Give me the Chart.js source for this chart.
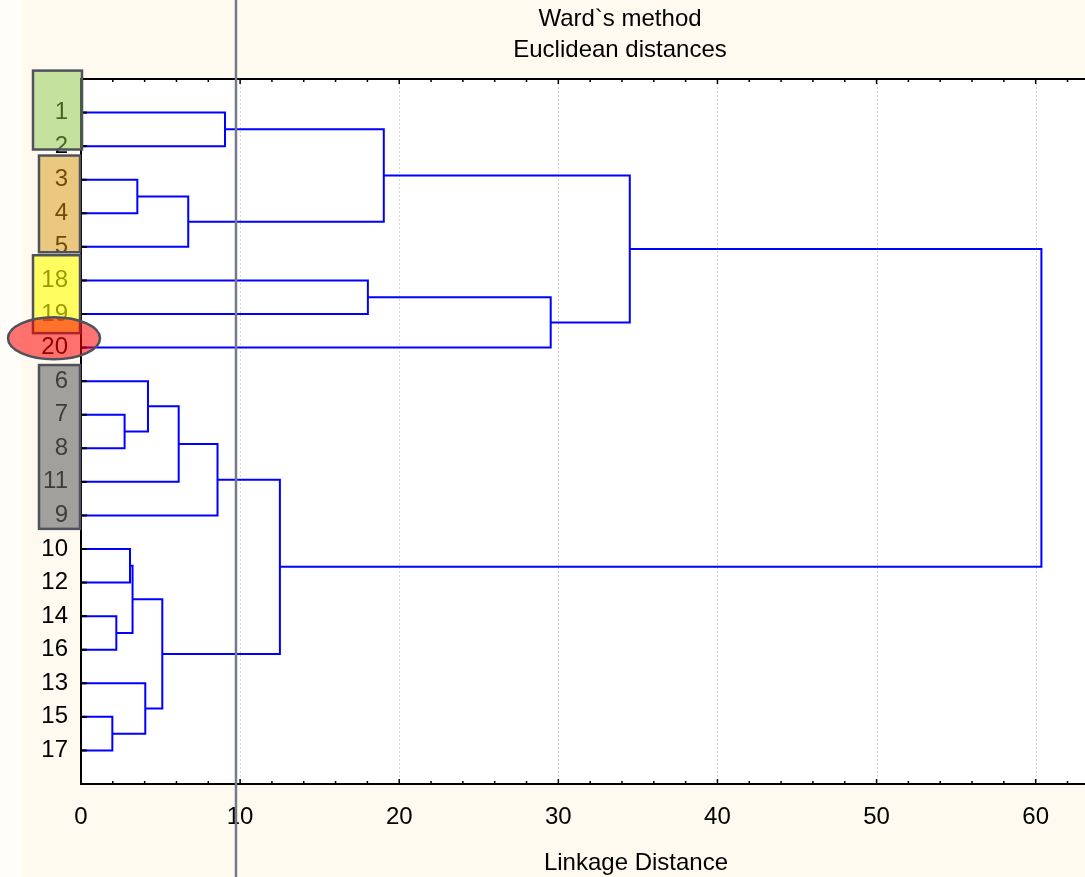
<!DOCTYPE html>
<html>
<head>
<meta charset="utf-8">
<script src="https://cdn.jsdelivr.net/npm/chart.js@4.4.1/dist/chart.umd.min.js"></script>
<style>
html, body { margin: 0; padding: 0; background: #fffaf0; }
#wrap { width: 1085px; height: 877px; }
</style>
</head>
<body>
<div id="wrap"><canvas id="dendro" width="1085" height="877"></canvas></div>
<script>
// --- DATI DEL DENDROGRAMMA ---
// ordine delle foglie dall'alto in basso
const leafLabels = ['1', '2', '3', '4', '5', '18', '19', '20', '6', '7', '8', '11', '9', '10', '12', '14', '16', '13', '15', '17'];
// fusione k crea il nodo 20+k unendo mergeA[k] e mergeB[k] (indici foglia 0..19 o nodi 20+)
const mergeA = [18, 15, 9, 13, 23, 2, 17, 8, 24, 27, 25, 29, 0, 31, 5, 32, 34, 35, 37];
const mergeB = [19, 16, 10, 14, 21, 3, 20, 22, 26, 11, 4, 12, 1, 28, 6, 30, 7, 36, 33];
const mergeHeight = [1.97, 2.22, 2.74, 3.08, 3.24, 3.54, 4.04, 4.21, 5.11, 6.14, 6.74, 8.58, 9.05, 12.5, 18.03, 19.03, 29.52, 34.49, 60.36];
const xTicks = [0, 10, 20, 30, 40, 50, 60];
const cutDistance = 9.74;   // linea verticale di taglio

// --- GRUPPI EVIDENZIATI (y in unità foglia, x in pixel dell'area etichette) ---
const groupBoxes = [
    { x0: 33, x1: 82, y0: -1.25, y1: 1.10, fill: 'rgba(140, 200, 75, 0.5)' },
    { x0: 39, x1: 80, y0: 1.28, y1: 4.16, fill: 'rgba(215, 150, 15, 0.5)' },
    { x0: 33, x1: 80, y0: 4.25, y1: 6.57, fill: 'rgba(255, 255, 0, 0.6)' },
    { x0: 39, x1: 80, y0: 7.52, y1: 12.40, fill: 'rgba(100, 100, 100, 0.6)' }
];
const groupEllipse = { cx: 54, cy: 6.72, rx: 46, ry: 21, fill: 'rgba(255, 0, 0, 0.55)' };

const FONT = '"Liberation Sans", Arial, sans-serif';

// --- COSTRUZIONE DEI LINK ---
const nodePos = leafLabels.map((l, i) => i);
const nodeH = leafLabels.map(() => 0);
const datasets = [];
for (let k = 0; k < mergeHeight.length; k++) {
    const a = mergeA[k], b = mergeB[k], h = mergeHeight[k];
    datasets.push({
        data: [
            { x: nodeH[a], y: nodePos[a] },
            { x: h, y: nodePos[a] },
            { x: h, y: nodePos[b] },
            { x: nodeH[b], y: nodePos[b] }
        ],
        showLine: true,
        borderColor: '#0000ff',
        borderWidth: 2,
        pointRadius: 0,
        tension: 0,
        fill: false
    });
    nodePos.push((nodePos[a] + nodePos[b]) / 2);
    nodeH.push(h);
}

// --- SFONDO, GRIGLIA, BORDI, DECORAZIONI ---
const sfondo = {
    id: 'sfondo',
    beforeDraw(chart) {
        const { ctx, chartArea: ca, width, height } = chart;
        ctx.save();
        ctx.fillStyle = '#fffaf0';
        ctx.fillRect(0, 0, width, height);
        ctx.fillStyle = '#fffdf8';
        ctx.fillRect(0, 0, 21, height);
        ctx.fillStyle = '#ffffff';
        ctx.fillRect(ca.left, ca.top, ca.right - ca.left, ca.bottom - ca.top);
        ctx.restore();
    },
    beforeDatasetsDraw(chart) {
        // griglia tratteggiata
        const { ctx, chartArea: ca, scales: { x } } = chart;
        ctx.save();
        ctx.strokeStyle = '#d6d6d6';
        ctx.lineWidth = 1;
        ctx.setLineDash([2, 2]);
        xTicks.forEach(v => {
            if (v === 0) return;
            const px = Math.round(x.getPixelForValue(v)) + 0.5;
            ctx.beginPath();
            ctx.moveTo(px, ca.top);
            ctx.lineTo(px, ca.bottom);
            ctx.stroke();
        });
        ctx.restore();
    },
    afterDatasetsDraw(chart) {
        // bordi e tacche
        const { ctx, chartArea: ca, scales: { x, y } } = chart;
        ctx.save();
        ctx.strokeStyle = '#000';
        ctx.lineWidth = 1.5;
        for (let v = 0; v <= 62; v += 2) {
            const px = x.getPixelForValue(v);
            const len = v % 10 === 0 ? 5 : 3;
            ctx.beginPath();
            ctx.moveTo(px, ca.top);
            ctx.lineTo(px, ca.top + len);
            ctx.moveTo(px, ca.bottom);
            ctx.lineTo(px, ca.bottom - len);
            ctx.stroke();
        }
        ctx.lineWidth = 2;
        leafLabels.forEach((l, i) => {
            const py = y.getPixelForValue(i);
            ctx.beginPath();
            ctx.moveTo(ca.left, py);
            ctx.lineTo(ca.left + 6, py);
            ctx.stroke();
        });
        ctx.beginPath();
        ctx.moveTo(ca.right, ca.top);
        ctx.lineTo(ca.left, ca.top);
        ctx.lineTo(ca.left, ca.bottom);
        ctx.lineTo(ca.right, ca.bottom);
        ctx.stroke();
        ctx.restore();
    },
    afterDraw(chart) {
        const { ctx, height, scales: { x, y } } = chart;
        ctx.save();
        // riquadri dei gruppi
        ctx.strokeStyle = '#4d525c';
        ctx.lineWidth = 2.5;
        groupBoxes.forEach(g => {
            const y0 = y.getPixelForValue(g.y0), y1 = y.getPixelForValue(g.y1);
            ctx.fillStyle = g.fill;
            ctx.fillRect(g.x0, y0, g.x1 - g.x0, y1 - y0);
            ctx.strokeRect(g.x0, y0, g.x1 - g.x0, y1 - y0);
        });
        const cy = y.getPixelForValue(groupEllipse.cy);
        ctx.beginPath();
        ctx.ellipse(groupEllipse.cx, cy, groupEllipse.rx, groupEllipse.ry, 0, 0, Math.PI * 2);
        ctx.fillStyle = groupEllipse.fill;
        ctx.fill();
        ctx.stroke();

        // linea di taglio
        const cx = x.getPixelForValue(cutDistance);
        ctx.strokeStyle = '#737a8c';
        ctx.lineWidth = 2.5;
        ctx.beginPath();
        ctx.moveTo(cx, 0);
        ctx.lineTo(cx, height);
        ctx.stroke();

        // titoli
        ctx.fillStyle = '#000';
        ctx.font = '24px ' + FONT;
        ctx.textAlign = 'center';
        ctx.textBaseline = 'alphabetic';
        ctx.fillText('Ward`s method', 620, 26);
        ctx.fillText('Euclidean distances', 620, 57);
        ctx.fillText('Linkage Distance', 636, 870);
        ctx.restore();
    }
};

// --- GRAFICO ---
const ctx = document.getElementById('dendro').getContext('2d');
const dendro = new Chart(ctx, {
    type: 'scatter',
    data: { datasets: datasets },
    options: {
        responsive: false,
        animation: false,
        devicePixelRatio: 1,
        layout: { padding: { top: 79, left: 0, right: 0, bottom: 0 } },
        plugins: {
            legend: { display: false },
            tooltip: { enabled: false }
        },
        scales: {
            x: {
                type: 'linear',
                min: 0,
                max: 63.1,
                afterBuildTicks: s => { s.ticks = xTicks.map(v => ({ value: v })); },
                afterFit: s => { s.height = 93; },
                ticks: {
                    font: { family: FONT, size: 24 },
                    color: '#000',
                    padding: 19,
                    maxRotation: 0,
                    autoSkip: false
                },
                grid: { display: false, drawTicks: false },
                border: { display: false }
            },
            y: {
                type: 'linear',
                min: -1,
                max: 20,
                reverse: true,
                afterBuildTicks: s => { s.ticks = leafLabels.map((l, i) => ({ value: i })); },
                afterFit: s => { s.width = 81; },
                ticks: {
                    callback: v => leafLabels[v] ?? '',
                    font: { family: FONT, size: 24 },
                    color: '#000',
                    padding: 13,
                    autoSkip: false
                },
                grid: { display: false, drawTicks: false },
                border: { display: false }
            }
        }
    },
    plugins: [sfondo]
});
</script>
</body>
</html>
